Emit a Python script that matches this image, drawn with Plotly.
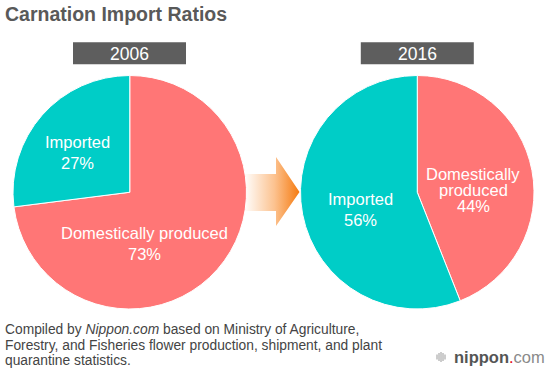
import plotly.graph_objects as go

# ---- data ----
years = ["2006", "2016"]
categories = ["Domestically produced", "Imported"]
values_2006 = [73, 27]
values_2016 = [44, 56]
slice_colors = ["#ff7676", "#00cdc7"]

title_text = "Carnation Import Ratios"
source_lines = [
    "Compiled by <i>Nippon.com</i> based on Ministry of Agriculture,",
    "Forestry, and Fisheries flower production, shipment, and plant",
    "quarantine statistics.",
]

W, H = 550, 370
FONT = "Liberation Sans, Arial, Helvetica, sans-serif"


def fx(x):
    return x / W


def fy(y):
    return 1 - y / H


fig = go.Figure()

# ---- pies ----
pie_boxes = [(13, 246.5), (300.5, 534)]
for (x0, x1), vals in zip(pie_boxes, [values_2006, values_2016]):
    fig.add_trace(go.Pie(
        labels=categories,
        values=vals,
        sort=False,
        direction="clockwise",
        rotation=0,
        marker=dict(colors=slice_colors, line=dict(color="white", width=1)),
        textinfo="none",
        hoverinfo="skip",
        domain=dict(x=[fx(x0), fx(x1)], y=[fy(309), fy(75.5)]),
        showlegend=False,
    ))

# ---- gradient arrow (decoration) ----
ax = [244, 276, 276, 299.5, 276, 276, 244, 244]
ay = [174, 174, 157, 192, 226, 211, 211, 174]
fig.add_trace(go.Scatter(
    x=ax, y=ay, mode="lines", fill="toself",
    line=dict(width=0, color="rgba(0,0,0,0)"),
    fillgradient=dict(type="horizontal",
                      colorscale=[[0, "rgba(255,255,255,1)"], [0.55, "#fcc28f"], [1, "#f57a0f"]]),
    hoverinfo="skip", showlegend=False,
))

# ---- logo icon bars ----
bar_x = [437, 439, 441, 443, 445]
bar_h = [5, 8, 10, 8, 5]
for bx, bh in zip(bar_x, bar_h):
    fig.add_shape(type="line", xref="x", yref="y", x0=bx, x1=bx,
                  y0=357 - bh / 2, y1=357 + bh / 2,
                  line=dict(color="#9a9a9a", width=1))

annotations = []

# title
annotations.append(dict(x=2.5, y=13.5, xref="x", yref="y", xanchor="left", yanchor="middle",
                        text=f"<b>{title_text}</b>", showarrow=False,
                        font=dict(family=FONT, size=19.5, color="#595959")))

# year header boxes
box_centers = [129.5, 417.3]
for cx, yr in zip(box_centers, years):
    fig.add_shape(type="rect", xref="x", yref="y", x0=cx - 56.5, x1=cx + 56.5,
                  y0=42.3, y1=64.3, fillcolor="#5e5e5e", line=dict(width=0))
    annotations.append(dict(x=cx, y=54, xref="x", yref="y", xanchor="center", yanchor="middle",
                            text=yr, showarrow=False,
                            font=dict(family=FONT, size=17.5, color="white")))

# slice labels (line by line)
def label_lines(cat, v, wrap):
    lines = cat.split() if wrap else [cat]
    return lines + [f"{v}%"]

label_specs = [
    # (value list, index, center x, first-line y, spacing, wrap)
    (values_2006, 0, 144.7, 233.3, 20.4, False),
    (values_2006, 1, 77.5, 142.0, 20.6, False),
    (values_2016, 0, 473.0, 173.5, 16.3, True),
    (values_2016, 1, 360.3, 199.3, 20.7, False),
]
for vals, i, cx, y0, dy, wrap in label_specs:
    for k, line in enumerate(label_lines(categories[i], vals[i], wrap)):
        annotations.append(dict(x=cx, y=y0 + k * dy, xref="x", yref="y",
                                xanchor="center", yanchor="middle",
                                text=line, showarrow=False,
                                font=dict(family=FONT, size=16.5, color="white")))

# source
for k, line in enumerate(source_lines):
    annotations.append(dict(x=3, y=329.7 + k * 15.3, xref="x", yref="y",
                            xanchor="left", yanchor="middle", text=line, showarrow=False,
                            font=dict(family=FONT, size=13.8, color="#444444")))

# logo text
annotations.append(dict(x=547, y=356.5, xref="x", yref="y", xanchor="right", yanchor="middle",
                        text="<b>nippon</b><span style='color:#e60012'>.</span>"
                             "<span style='color:#8a8a8a'>com</span>",
                        showarrow=False,
                        font=dict(family=FONT, size=16.5, color="#555555")))

fig.update_layout(
    width=W, height=H,
    margin=dict(l=0, r=0, t=0, b=0),
    paper_bgcolor="white", plot_bgcolor="white",
    xaxis=dict(range=[0, W], visible=False, fixedrange=True, domain=[0, 1]),
    yaxis=dict(range=[H, 0], visible=False, fixedrange=True, domain=[0, 1]),
    annotations=annotations,
    showlegend=False,
)

fig.write_html("out.html", config={"displayModeBar": False},
               post_script="document.body.style.margin='0';document.body.style.padding='0';")
